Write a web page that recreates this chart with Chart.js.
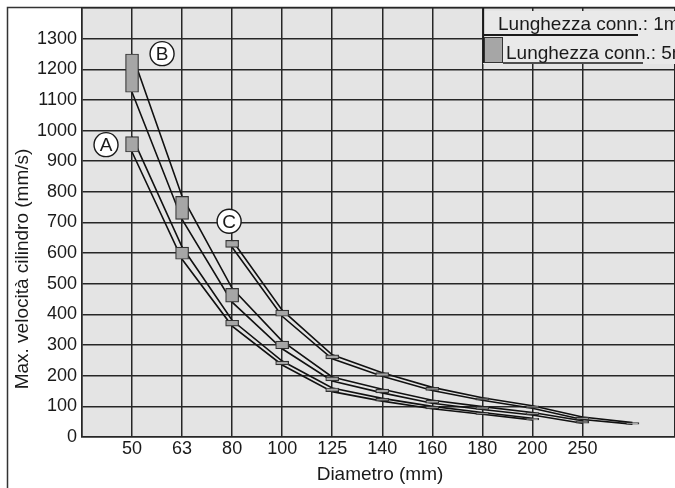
<!DOCTYPE html>
<html>
<head>
<meta charset="utf-8">
<script src="https://cdn.jsdelivr.net/npm/chart.js@4.4.0/dist/chart.umd.min.js"></script>
<style>
  html, body { margin: 0; padding: 0; background: #fff; }
  #wrap { width: 675px; height: 488px; }
</style>
</head>
<body>
<div id="wrap"><canvas id="grafico"></canvas></div>
<script>
// colonne dell'asse x (l'ultima colonna della griglia non ha etichetta)
const diametri = ["50", "63", "80", "100", "125", "140", "160", "180", "200", "250", ""];

// velocita massima (mm/s): limite superiore e inferiore di ogni curva
const aSup = [980, 620, 381, 248, 160, 126, 100, 80, 61, null, null];
const aInf = [930, 580, 362, 235, 148, 117, 92, 74, 56, null, null];
const bSup = [1250, 785, 485, 313, 196, 156, 120, 99, 80, 53, null];
const bInf = [1125, 710, 440, 288, 183, 144, 110, 90, 72, 45, null];
const cSup = [null, null, 642, 414, 268, 210, 162, 128, 102, 65, 47];
const cInf = [null, null, 619, 394, 255, 198, 152, 120, 94, 57, 42];

const curve = [
  { nome: "A", sup: aSup, inf: aInf },
  { nome: "B", sup: bSup, inf: bInf },
  { nome: "C", sup: cSup, inf: cInf }
];

// lettere cerchiate (posizione in unita del grafico)
const etichette = [
  { testo: "A", x: 0.48, y: 954 },
  { testo: "B", x: 1.6, y: 1251 },
  { testo: "C", x: 2.94, y: 704 }
];

const legenda = ["Lunghezza conn.: 1m", "Lunghezza conn.: 5m"];
const titoloX = "Diametro (mm)";
const titoloY = "Max. velocità cilindro (mm/s)";

const FONT = "'Liberation Sans', Arial, sans-serif";
const NERO = "#1a1a1a";
const GRIGLIA = "#262626";
const BOX = "#a6a6a6";

function punti(valori) {
  return valori.map((v, i) => v == null ? null : { x: i + 1, y: v }).filter(Boolean);
}

function scatole(sup, inf) {
  return sup.map((v, i) => v == null ? null : { x: i + 1, y: [inf[i], v] }).filter(Boolean);
}

const datasets = [];
for (const c of curve) {
  datasets.push({
    type: "bar",
    label: c.nome + " 5m",
    data: scatole(c.sup, c.inf),
    backgroundColor: BOX,
    borderColor: "#333",
    borderWidth: 1.2,
    borderSkipped: false,
    barThickness: 13,
    grouped: false,
    order: 0
  });
  for (const serie of [c.sup, c.inf]) {
    datasets.push({
      type: "line",
      label: c.nome + " 1m",
      data: punti(serie),
      borderColor: "#111",
      borderWidth: 1.6,
      pointRadius: 0,
      tension: 0,
      fill: false,
      order: 1
    });
  }
}

const decorazioni = {
  id: "decorazioni",
  beforeDraw(chart) {
    const { ctx, chartArea: a, width, height } = chart;
    ctx.save();
    ctx.fillStyle = "#fff";
    ctx.fillRect(0, 0, width, height);
    ctx.fillStyle = "#e4e4e4";
    ctx.fillRect(a.left, a.top, a.right - a.left, a.bottom - a.top);
    ctx.strokeStyle = "#333";
    ctx.lineWidth = 1.5;
    ctx.beginPath();
    ctx.moveTo(7.5, height);
    ctx.lineTo(7.5, 7.5);
    ctx.lineTo(width, 7.5);
    ctx.stroke();
    ctx.restore();
  },
  afterDatasetsDraw(chart) {
    const { ctx, chartArea: a, scales } = chart;
    ctx.save();

    // lettere cerchiate
    for (const e of etichette) {
      const px = scales.x.getPixelForValue(e.x);
      const py = scales.y.getPixelForValue(e.y);
      ctx.beginPath();
      ctx.arc(px, py, 12, 0, Math.PI * 2);
      ctx.fillStyle = "#fff";
      ctx.fill();
      ctx.lineWidth = 1.4;
      ctx.strokeStyle = NERO;
      ctx.stroke();
      ctx.fillStyle = NERO;
      ctx.font = "19px " + FONT;
      ctx.textAlign = "center";
      ctx.textBaseline = "middle";
      ctx.fillText(e.testo, px, py + 1);
    }

    // legenda in alto a destra
    const lx = a.right - 192;
    const ly = a.top;
    ctx.fillStyle = "#e9e9e9";
    ctx.fillRect(lx, ly + 3, a.right - lx, 53);
    ctx.strokeStyle = NERO;
    ctx.lineWidth = 1.3;
    ctx.beginPath();
    ctx.moveTo(lx + 0.5, ly);
    ctx.lineTo(lx + 0.5, ly + 55);
    ctx.stroke();
    ctx.lineWidth = 2;
    ctx.beginPath();
    ctx.moveTo(lx, ly + 27);
    ctx.lineTo(lx + 155, ly + 27);
    ctx.stroke();
    ctx.lineWidth = 1.3;
    ctx.beginPath();
    ctx.moveTo(lx + 20, ly + 55);
    ctx.lineTo(lx + 160, ly + 55);
    ctx.stroke();
    ctx.fillStyle = BOX;
    ctx.fillRect(lx + 1, ly + 29, 19, 26);
    ctx.strokeStyle = "#333";
    ctx.lineWidth = 1;
    ctx.strokeRect(lx + 1.5, ly + 29.5, 18, 25);
    ctx.fillStyle = NERO;
    ctx.font = "19px " + FONT;
    ctx.textAlign = "left";
    ctx.textBaseline = "alphabetic";
    ctx.fillText(legenda[0], lx + 15, ly + 22);
    ctx.fillText(legenda[1], lx + 23, ly + 51);
    ctx.restore();
  },
  afterDraw(chart) {
    const { ctx } = chart;
    ctx.save();
    ctx.fillStyle = NERO;
    ctx.font = "19px " + FONT;
    ctx.textAlign = "center";
    ctx.textBaseline = "alphabetic";
    ctx.fillText(titoloX, 380, 480);
    ctx.translate(28, 269);
    ctx.rotate(-Math.PI / 2);
    ctx.fillText(titoloY, 0, 0);
    ctx.restore();
  }
};

new Chart(document.getElementById("grafico"), {
  type: "line",
  data: { datasets: datasets },
  plugins: [decorazioni],
  options: {
    responsive: true,
    maintainAspectRatio: false,
    animation: false,
    layout: { padding: { top: 8, right: 0, left: 0, bottom: 0 } },
    plugins: {
      legend: { display: false },
      tooltip: { enabled: false }
    },
    scales: {
      x: {
        type: "linear",
        min: 0,
        max: 11.85,
        offset: false,
        afterFit: (s) => { s.height = 51; s.paddingLeft = 0; s.paddingRight = 0; },
        ticks: {
          stepSize: 1,
          autoSkip: false,
          maxRotation: 0,
          padding: 1,
          color: NERO,
          font: { family: FONT, size: 18 },
          callback: (v) => (Number.isInteger(v) && v >= 1 && v <= diametri.length) ? diametri[v - 1] : ""
        },
        grid: { color: GRIGLIA, lineWidth: 1.5, drawTicks: false, offset: false },
        border: { color: GRIGLIA, width: 1.5 }
      },
      y: {
        min: 0,
        max: 1400,
        afterFit: (s) => { s.width = 82; s.paddingTop = 0; s.paddingBottom = 0; },
        ticks: {
          stepSize: 100,
          padding: 5,
          color: NERO,
          font: { family: FONT, size: 18 },
          callback: (v) => v < 1400 ? String(v) : ""
        },
        grid: { color: GRIGLIA, lineWidth: 1.5, drawTicks: false },
        border: { color: GRIGLIA, width: 1.5 }
      }
    }
  }
});
</script>
</body>
</html>
